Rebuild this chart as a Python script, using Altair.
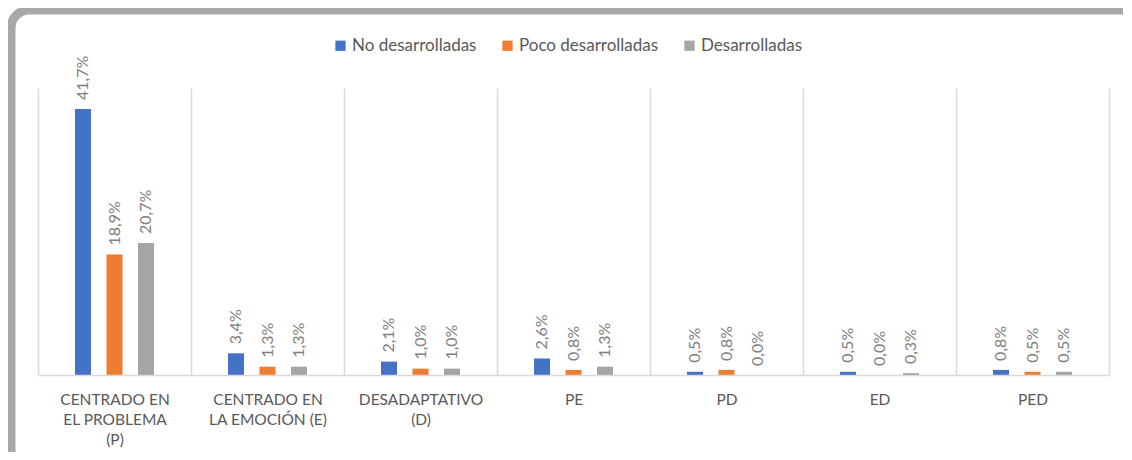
import altair as alt
import pandas as pd

# ---- data -------------------------------------------------------------
category_lines = [
    ["CENTRADO EN", "EL PROBLEMA", "(P)"],
    ["CENTRADO EN", "LA EMOCIÓN (E)"],
    ["DESADAPTATIVO", "(D)"],
    ["PE"],
    ["PD"],
    ["ED"],
    ["PED"],
]
series = ["No desarrolladas", "Poco desarrolladas", "Desarrolladas"]
no_desarrolladas = [41.7, 3.4, 2.1, 2.6, 0.5, 0.5, 0.8]
poco_desarrolladas = [18.9, 1.3, 1.0, 0.8, 0.8, 0.0, 0.5]
desarrolladas = [20.7, 1.3, 1.0, 1.3, 0.0, 0.3, 0.5]
colors = ["#4472C4", "#ED7D31", "#A5A5A5"]

categories = ["\n".join(l) for l in category_lines]
rows = []
for s, vals in zip(series, [no_desarrolladas, poco_desarrolladas, desarrolladas]):
    for c, v in zip(categories, vals):
        rows.append({"cat": c, "serie": s, "valor": v,
                     "etiqueta": f"{v:.1f}%".replace(".", ",")})
df = pd.DataFrame(rows)

FONT = "Lato"

x_enc = alt.X("cat:N", sort=categories,
              scale=alt.Scale(paddingInner=0, paddingOuter=0),
              axis=alt.Axis(title=None, labelAngle=0, grid=True, tickBand="extent",
                            ticks=False, gridColor="#d9d9d9", domainColor="#d9d9d9",
                            domainWidth=1.5, gridWidth=1.5, zindex=1,
                            labelExpr="isString(datum.value) ? split(datum.value, '\\n') : ''",
                            labelFont=FONT, labelFontSize=15.5, labelColor="#595959",
                            labelLineHeight=20, labelPadding=17, labelLimit=0))
xo_enc = alt.XOffset("serie:N", sort=series,
                     scale=alt.Scale(paddingInner=0.14, paddingOuter=1))
y_enc = alt.Y("valor:Q", scale=alt.Scale(domain=[0, 45]), axis=None)

frame = alt.Chart(pd.DataFrame({"k": [0]})).mark_rect(
    fill="white", stroke="#a8a8a8", strokeWidth=9, cornerRadius=18
).encode(x=alt.value(-27), x2=alt.value(1125), y=alt.value(-78), y2=alt.value(380))

bars = alt.Chart(df).mark_bar(size=16).encode(
    x=x_enc, xOffset=xo_enc, y=y_enc,
    color=alt.Color("serie:N", sort=series,
                    scale=alt.Scale(domain=series, range=colors),
                    legend=alt.Legend(title=None, orient="none", direction="horizontal",
                                      legendX=294, legendY=-51,
                                      symbolType="square", symbolSize=105,
                                      symbolStrokeWidth=0, labelOffset=3,
                                      labelFont=FONT, labelFontSize=17,
                                      labelColor="#595959", columnPadding=22)),
)

labels = alt.Chart(df).mark_text(
    angle=270, align="left", baseline="middle", dx=9,
    font=FONT, fontSize=16, color="#808080"
).encode(x=x_enc, xOffset=xo_enc, y=y_enc, text="etiqueta:N")

chart = alt.layer(frame, bars, labels).properties(
    width=1071, height=287,
    autosize=alt.AutoSizeParams(type="none"),
    padding={"left": 30, "top": 80, "right": 14, "bottom": 77},
).configure_view(stroke=None)

chart.save("out.html", embed_options={"renderer": "svg", "actions": False})
